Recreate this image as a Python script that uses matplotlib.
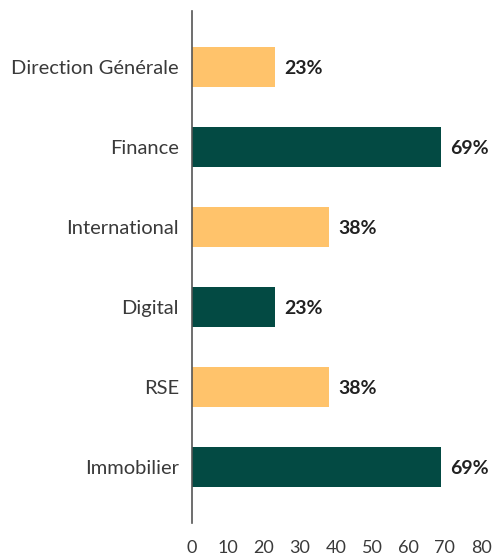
import matplotlib.pyplot as plt

departments = ["Direction Générale", "Finance", "International", "Digital", "RSE", "Immobilier"]
shares = [23, 69, 38, 23, 38, 69]
bar_colors = ["#FFC36B", "#034A43", "#FFC36B", "#034A43", "#FFC36B", "#034A43"]
x_ticks = [0, 10, 20, 30, 40, 50, 60, 70, 80]

plt.rcParams['font.family'] = ['Lato', 'DejaVu Sans']

fig = plt.figure(figsize=(4.95, 5.57), dpi=100)
ax = fig.add_axes([191.5 / 495, 34 / 557, (481 - 191.5) / 495, (523 - 11) / 557])

pos = list(range(len(departments)))
ax.barh(pos, shares, height=0.5, color=bar_colors)

for y, v in zip(pos, shares):
    ax.text(v + 2.5, y + 0.02, f"{v}%", va='center', ha='left', fontsize=14,
            fontweight='bold', color='#222222')

ax.set_yticks(pos)
ax.set_yticklabels(departments, fontsize=14.5, color='#3a3a3a')
ax.set_xticks(x_ticks)
ax.set_xticklabels([str(t) for t in x_ticks], fontsize=13, color='#3a3a3a')
ax.tick_params(axis='both', length=0)
ax.tick_params(axis='y', pad=9)
ax.tick_params(axis='x', pad=12)

ax.set_xlim(0, 80)
ax.set_ylim(5.7, -0.7)

for side in ['top', 'right', 'bottom']:
    ax.spines[side].set_visible(False)
ax.spines['left'].set_color('#555555')
ax.spines['left'].set_linewidth(1.2)

fig.savefig("out.png", dpi=100)
